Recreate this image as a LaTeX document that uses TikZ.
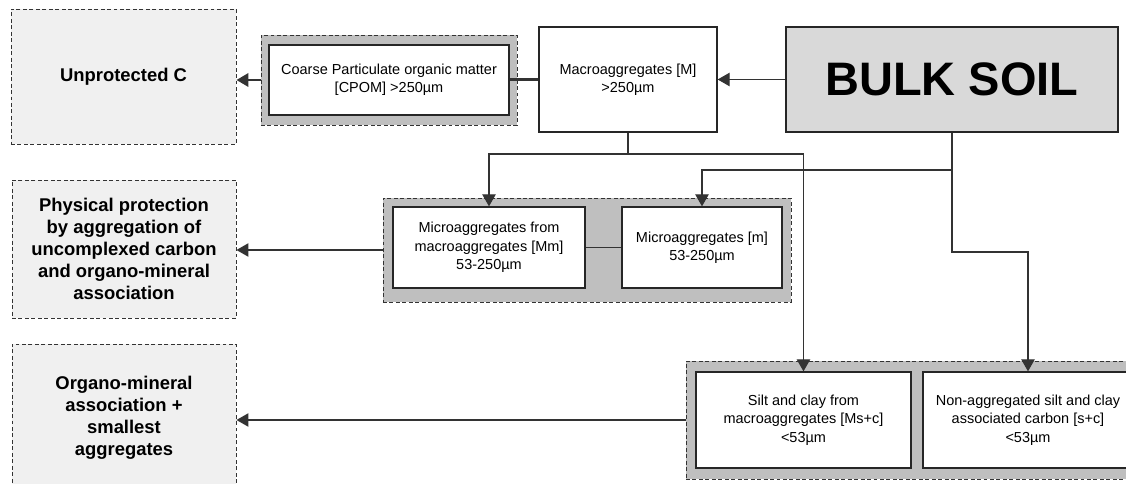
\documentclass[tikz,border=0pt]{standalone}
\usepackage{fontspec}
\setmainfont{Liberation Sans}
\usetikzlibrary{arrows.meta}
\tikzset{
	poolbox/.style={draw=black!80, fill=black!6, line width=0.6pt, dash pattern=on 2.8pt off 1.8pt, align=center, inner sep=0pt, font=\bfseries\fontsize{13.1}{15.6}\selectfont},
	groupbox/.style={draw=black!80, fill=black!25, line width=0.6pt, dash pattern=on 2.8pt off 1.8pt, inner sep=0pt},
	fracbox/.style={draw=black!85, fill=white, line width=0.9pt, align=center, inner sep=0pt, font=\fontsize{10.3}{13}\selectfont},
	link/.style={draw=black!80, line width=0.8pt},
	flow/.style={link, -{Triangle[length=8.5pt,width=9.5pt]}},
}

\begin{document}
\begin{tikzpicture}[x=0.025cm, y=-0.025cm]
		%%%%% START %%%%%
		
		\useasboundingbox (0, 0) rectangle (1126, 484);
		\clip (0, 0) rectangle (1126, 484);
		
		% carbon pools
		\node[poolbox, minimum width=5.625cm, minimum height=3.375cm] (unprot) at (123.5, 76.5) {Unprotected C};
		\node[poolbox, minimum width=5.6cm, minimum height=3.45cm] (physprot) at (124, 249) {Physical protection\\by aggregation of\\uncomplexed carbon\\and organo-mineral\\association};
		\node[poolbox, minimum width=5.6cm, minimum height=3.7cm] (orgmin) at (124, 418) {Organo-mineral\\association +\\smallest\\aggregates};
		
		% grey frames
		\node[groupbox, minimum width=6.4cm, minimum height=2.25cm] (cpomgrp) at (389, 80) {};
		\node[groupbox, minimum width=10.2cm, minimum height=2.6cm] (microgrp) at (587, 250) {};
		\node[groupbox, minimum width=11.425cm, minimum height=2.95cm] (siltgrp) at (914.5, 420) {};
		
		% fractions
		\node[fracbox, minimum width=6cm, minimum height=1.75cm] (cpom) at (389, 80) {Coarse Particulate organic matter\\{[CPOM]} >250µm};
		\node[fracbox, minimum width=4.45cm, minimum height=2.625cm] (macro) at (628, 79.5) {Macroaggregates [M]\\>250µm};
		\node[fracbox, fill=black!15, minimum width=8.3cm, minimum height=2.625cm, font=\bfseries\fontsize{33.4}{36}\selectfont] (bulk) at (952, 79.5) {BULK SOIL};
		
		\node[fracbox, minimum width=4.8cm, minimum height=2.025cm] (micromac) at (489, 247.5) {Microaggregates from\\macroaggregates [Mm]\\53-250µm};
		\node[fracbox, minimum width=4cm, minimum height=2.025cm] (micro) at (702, 247.5) {Microaggregates [m]\\53-250µm};
		
		\node[fracbox, minimum width=5.375cm, minimum height=2.4cm] (siltmac) at (803.5, 420) {Silt and clay from\\macroaggregates [Ms+c]\\<53µm};
		\node[fracbox, minimum width=5.25cm, minimum height=2.4cm] (silt) at (1028, 420) {Non-aggregated silt and clay\\associated carbon [s+c]\\<53µm};
		
		% connectors
		\coordinate (macrojoin) at (628, 154);
		\coordinate (bulkjoin) at (952, 170);
		\coordinate (bulkturn) at (952, 252);
		
		\draw[flow] (bulk.west) -- (macro.east);
		\draw[link, line width=1.6pt] (macro.west) -- (cpom.east |- macro.west);
		\draw[flow, line width=1.6pt] (cpomgrp.west) -- (unprot.east |- cpomgrp.west);
		
		\draw[flow] (macro.south) -- (macrojoin) -| (micromac.north);
		\draw[flow] (macrojoin) -| (siltmac.north);
		\draw[flow] (bulk.south) -- (bulkjoin) -| (micro.north);
		\draw[flow] (bulkjoin) -- (bulkturn) -| (silt.north);
		
		\draw[link] (micromac.east) -- (micro.west);
		\draw[flow] (microgrp.west) -- (physprot.east |- microgrp.west);
		\draw[flow] (siltgrp.west) -- (orgmin.east |- siltgrp.west);
		
		%%%%% END %%%%%
	\end{tikzpicture}
\end{document}
